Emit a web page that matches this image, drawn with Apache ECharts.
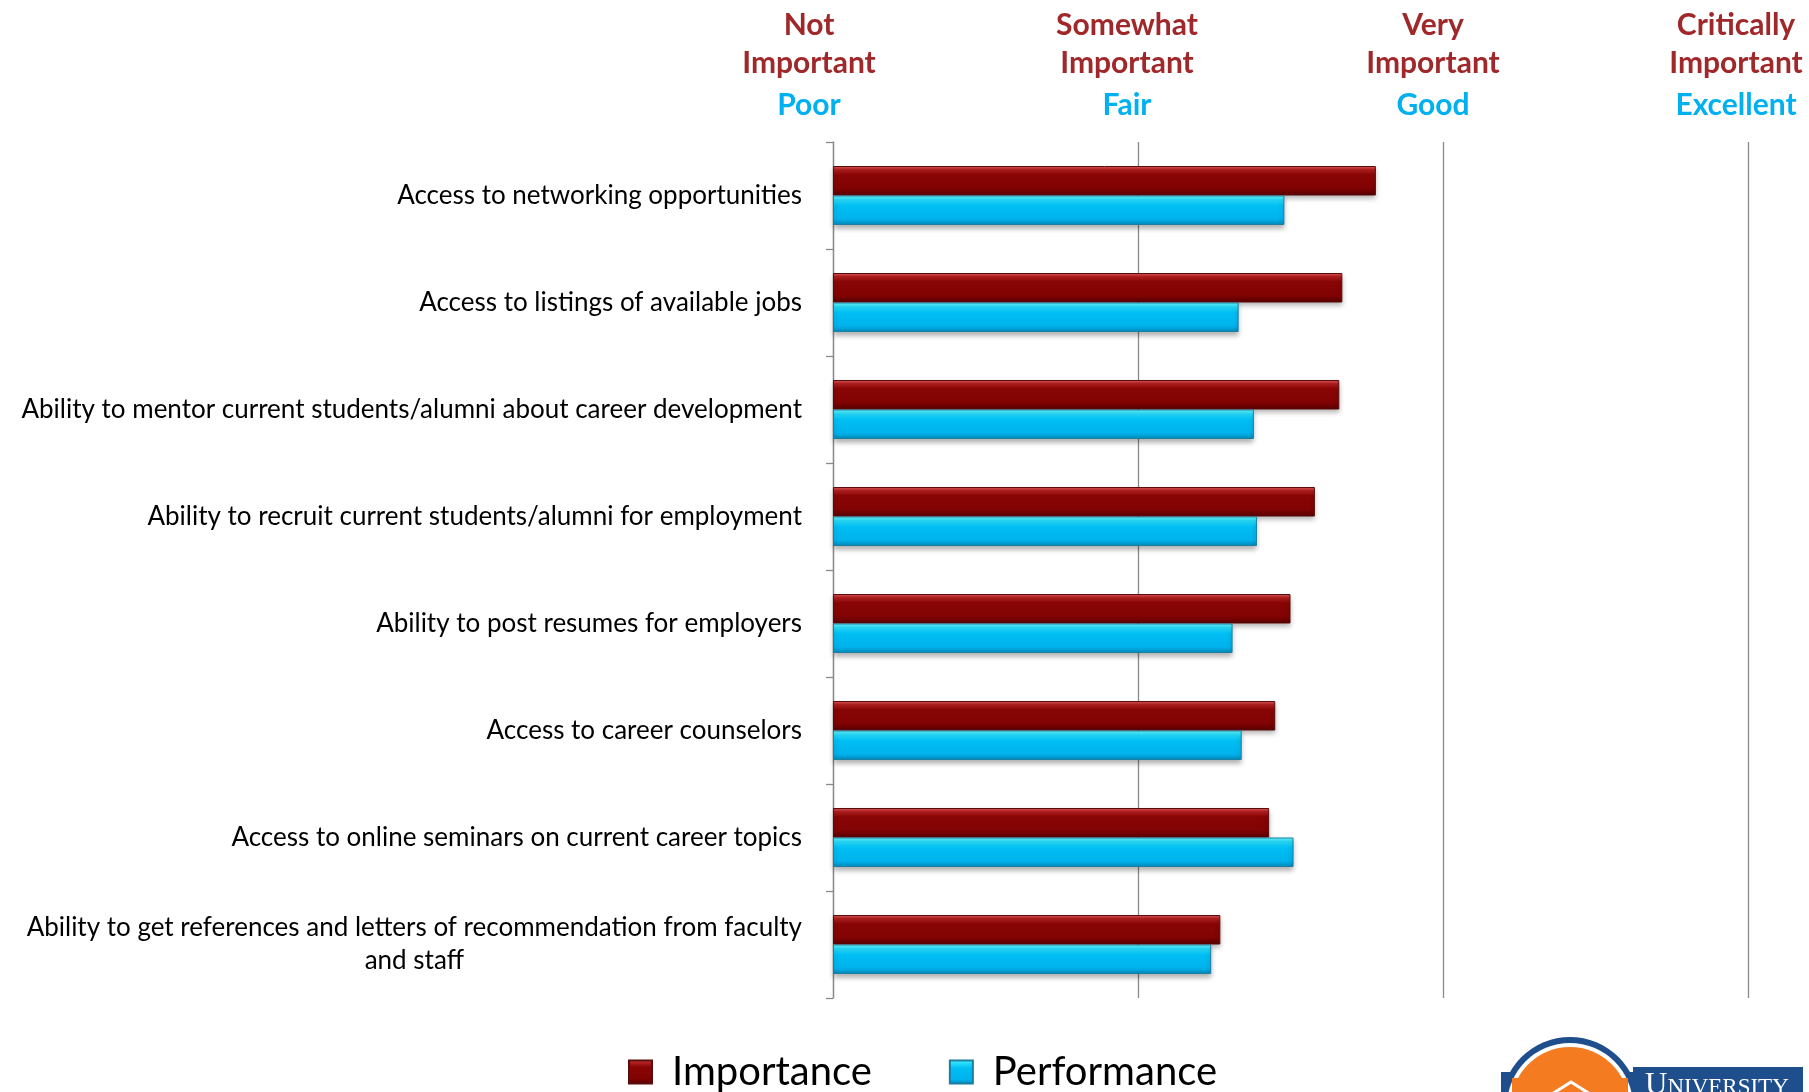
<!DOCTYPE html>
<html>
<head>
<meta charset="utf-8">
<script src="https://cdn.jsdelivr.net/npm/echarts@6/dist/echarts.min.js"></script>
<style>
html,body{margin:0;padding:0;background:#fff;}
#chart{width:1809px;height:1092px;}
</style>
</head>
<body>
<div id="chart"></div>
<script>
const categories = [
  'Access to networking opportunities',
  'Access to listings of available jobs',
  'Ability to mentor current students/alumni about career development',
  'Ability to recruit current students/alumni for employment',
  'Ability to post resumes for employers',
  'Access to career counselors',
  'Access to online seminars on current career topics',
  'Ability to get references and letters of recommendation from faculty\nand staff'
];
const importance  = [2.78, 2.67, 2.66, 2.58, 2.50, 2.45, 2.43, 2.27];
const performance = [2.48, 2.33, 2.38, 2.39, 2.31, 2.34, 2.51, 2.24];
const tickValues = [1, 2, 3, 4];
const importanceTickLabels = [['Not', 'Important'], ['Somewhat', 'Important'], ['Very', 'Important'], ['Critically', 'Important']];
const performanceTickLabels = ['Poor', 'Fair', 'Good', 'Excellent'];
const seriesNames = ['Importance', 'Performance'];

const FONT = 'Lato, "Open Sans", sans-serif';
const labelShift = [48, 22, 20, 24];

const rich = {};
labelShift.forEach((s, i) => {
  rich['i' + i] = { color: '#A0282A', fontSize: 30, fontWeight: 'bold', fontFamily: FONT, lineHeight: 38, padding: [0, s, 0, 0] };
  rich['p' + i] = { color: '#00B0F0', fontSize: 30, fontWeight: 'bold', fontFamily: FONT, lineHeight: 46, padding: [0, s, 0, 0] };
});

const redGrad = new echarts.graphic.LinearGradient(0, 0, 0, 1, [
  { offset: 0, color: '#e06060' },
  { offset: 0.12, color: '#b52020' },
  { offset: 0.3, color: '#880505' },
  { offset: 0.75, color: '#820303' },
  { offset: 0.9, color: '#6a0000' },
  { offset: 1, color: '#560000' }
]);
const blueGrad = new echarts.graphic.LinearGradient(0, 0, 0, 1, [
  { offset: 0, color: '#70f8ff' },
  { offset: 0.14, color: '#28dcfa' },
  { offset: 0.35, color: '#00bef3' },
  { offset: 0.8, color: '#00b2ec' },
  { offset: 1, color: '#0088b8' }
]);

const chart = echarts.init(document.getElementById('chart'), null, { renderer: 'canvas' });
chart.setOption({
  backgroundColor: '#ffffff',
  animation: false,
  grid: { left: 833, right: 61, top: 142, bottom: 94, outerBoundsMode: 'none', containLabel: false },
  xAxis: {
    type: 'value',
    position: 'top',
    min: 1, max: 4, interval: 1,
    startValue: 1,
    axisLine: { show: false },
    axisTick: { show: false },
    splitLine: { show: true, lineStyle: { color: '#8a8a8a', width: 1.3 } },
    axisLabel: {
      show: true,
      margin: 14,
      showMinLabel: true,
      showMaxLabel: true,
      formatter: function (v) {
        const i = tickValues.indexOf(v);
        if (i < 0) return '';
        return importanceTickLabels[i].map(t => '{i' + i + '|' + t + '}').join('\n') + '\n{p' + i + '|' + performanceTickLabels[i] + '}';
      },
      rich: rich
    }
  },
  yAxis: {
    type: 'category',
    inverse: true,
    data: categories,
    axisLine: { show: true, lineStyle: { color: '#8a8a8a', width: 1.3 } },
    axisTick: { show: true, length: 7, lineStyle: { color: '#8a8a8a', width: 1.3 } },
    axisLabel: {
      margin: 31,
      color: '#000',
      fontSize: 26,
      fontFamily: FONT,
      formatter: function (v) {
        return v.split('\n').map(t => '{c|' + t + '}').join('\n');
      },
      rich: { c: { align: 'center', fontSize: 26, fontFamily: FONT, color: '#000', lineHeight: 33 } }
    }
  },
  legend: {
    left: 623,
    top: 1047,
    itemWidth: 23,
    itemHeight: 23,
    itemGap: 77,
    icon: 'rect',
    textStyle: { fontSize: 40, fontFamily: FONT, color: '#000', padding: [0, 0, 0, 15] },
    data: seriesNames
  },
  series: [
    {
      name: seriesNames[0],
      type: 'bar',
      data: importance,
      barWidth: 29.5,
      barGap: '0%',
      clip: true,
      itemStyle: { color: redGrad, borderColor: '#5a0d0d', borderWidth: 1, shadowBlur: 5, shadowOffsetY: 3, shadowColor: 'rgba(0,0,0,0.3)' }
    },
    {
      name: seriesNames[1],
      type: 'bar',
      data: performance,
      barWidth: 29.5,
      barGap: '0%',
      clip: true,
      itemStyle: { color: blueGrad, borderColor: '#1a7fa0', borderWidth: 1, shadowBlur: 5, shadowOffsetY: 3, shadowColor: 'rgba(0,0,0,0.3)' }
    }
  ],
  graphic: [
    { type: 'rect', shape: { x: 1501, y: 1072, width: 138, height: 30 }, style: { fill: '#1f4e8c' } },
    { type: 'rect', shape: { x: 1508, y: 1076, width: 124, height: 30 }, style: { fill: '#ffffff' } },
    { type: 'circle', shape: { cx: 1570, cy: 1106, r: 69 }, style: { fill: '#1f4e8c' } },
    { type: 'circle', shape: { cx: 1570, cy: 1106, r: 63 }, style: { fill: '#ffffff' } },
    { type: 'circle', shape: { cx: 1570, cy: 1106, r: 59 }, style: { fill: '#f47b20' } },
    { type: 'rect', shape: { x: 1512, y: 1078, width: 116, height: 30 }, style: { fill: '#f47b20' } },
    { type: 'polyline', shape: { points: [[1552, 1094], [1571, 1082], [1590, 1094]] }, style: { stroke: '#ffffff', lineWidth: 3, fill: null } },
    { type: 'rect', shape: { x: 1633, y: 1067, width: 170, height: 30 }, style: { fill: '#1f4e8c' } },
    { type: 'text', x: 1645, y: 1070, style: { text: '{a|U}{b|NIVERSITY}', fill: '#fff', rich: { a: { fontSize: 31, fontFamily: '"Liberation Serif", serif', fill: '#fff', verticalAlign: 'top' }, b: { fontSize: 23, fontFamily: '"Liberation Serif", serif', fill: '#fff', verticalAlign: 'top', padding: [6, 0, 0, 0] } } } }
  ]
});
</script>
</body>
</html>
